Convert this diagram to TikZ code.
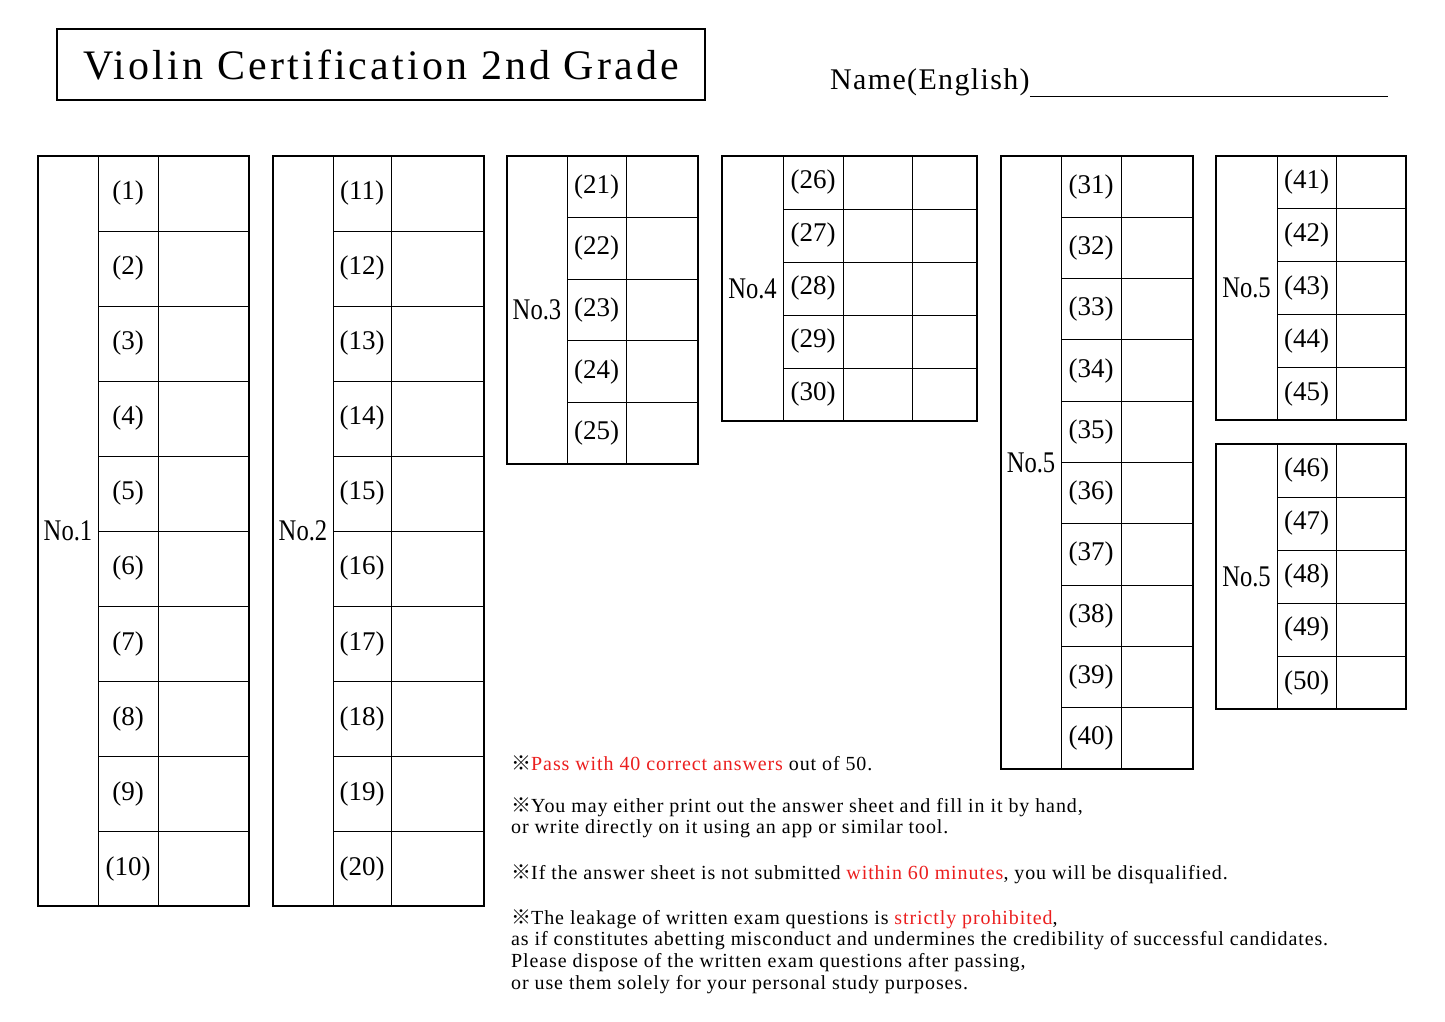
\documentclass[tikz,border=0pt]{standalone}
\usepackage{fontspec}
\setmainfont{Liberation Serif}
\newfontfamily\cond{Liberation Serif}
\newfontfamily\narrow{Liberation Serif}[FakeStretch=0.82]
\newfontfamily\spaced{Liberation Serif}[LetterSpace=4.5]
\newfontfamily\titlefont{Liberation Serif}[LetterSpace=7.5]
\newfontfamily\cjk{Noto Sans CJK JP}
\newcommand\kome{{\cjk ※}}
\usepackage{xcolor}
\definecolor{redtxt}{RGB}{235,30,30}
\tikzset{
 thinl/.style={line width=0.9pt},
 thickl/.style={line width=2.6pt},
 num/.style={font=\cond\fontsize{27}{27}\selectfont, inner sep=0pt},
 lab/.style={font=\narrow\fontsize{30}{30}\selectfont, inner sep=0pt},
 note/.style={font=\spaced\fontsize{20}{21}\selectfont, anchor=west, inner sep=0pt},
}
\newcommand\nrows{10}
\newcommand\anstab[9]{%
 \draw[thinl] (#2,#6) -- (#2,#7);
 \draw[thinl] (#3,#6) -- (#3,#7);
 \ifx\relax#4\relax\else\draw[thinl] (#4,#6) -- (#4,#7);\fi
 \pgfmathtruncatemacro\nm{\nrows-1}
 \foreach \i in {1,...,\nm} {\draw[thinl] (#2,{#6+\i*(#7-#6)/\nrows}) -- (#5,{#6+\i*(#7-#6)/\nrows});}
 \foreach \i in {1,...,\nrows} {\pgfmathtruncatemacro\k{#8+\i-1}
   \node[num] (q\k) at ({(#2+#3)/2},{#6+(\i-0.5)*(#7-#6)/\nrows}) {(\k)};}
 \node[lab] (L#8) at ({(#1+#2)/2},{(#6+#7)/2}) {#9};
 \draw[thickl] (#1,#6) rectangle (#5,#7);
}
\begin{document}
\begin{tikzpicture}[x=1pt,y=-1pt]
\useasboundingbox (0,0) rectangle (1445,1022);
\node[draw, line width=2.2pt, minimum width=648pt, minimum height=71pt, anchor=north west,
  font=\titlefont\fontsize{42}{42}\selectfont, inner sep=0pt] (title) at (56,28) {Violin Certification 2nd Grade};
\node[font=\spaced\fontsize{30}{30}\selectfont, anchor=south west, inner sep=0pt] (name) at (830,96) {Name(English)};
\coordinate (ul) at (1388,96);
\draw[thinl] (name.south east) -- (ul);
\renewcommand\nrows{10}
\anstab{38}{98}{158}{}{249}{156}{906}{1}{No.1}
\anstab{273}{333}{391}{}{484}{156}{906}{11}{No.2}
\anstab{1001}{1061}{1121}{}{1193}{156}{769}{31}{No.5}
\renewcommand\nrows{5}
\anstab{507}{567}{626}{}{698}{156}{464}{21}{No.3}
\anstab{722}{783}{843}{912}{977}{156}{421}{26}{No.4}
\anstab{1216}{1277}{1336}{}{1406}{156}{420}{41}{No.5}
\anstab{1216}{1277}{1336}{}{1406}{444}{709}{46}{No.5}
\node[note] (n1) at (511,763) {\kome\textcolor{redtxt}{Pass with 40 correct answers} out of 50.};
\node[note] (n2) at (511,807) {\kome You may either print out the answer sheet and fill in it by hand,};
\node[note] (n3) at (511,829) {or write directly on it using an app or similar tool.};
\node[note] (n4) at (511,874) {\kome If the answer sheet is not submitted \textcolor{redtxt}{within 60 minutes}, you will be disqualified.};
\node[note] (n5) at (511,919) {\kome The leakage of written exam questions is \textcolor{redtxt}{strictly prohibited},};
\node[note] (n6) at (511,941) {as if constitutes abetting misconduct and undermines the credibility of successful candidates.};
\node[note] (n7) at (511,963) {Please dispose of the written exam questions after passing,};
\node[note] (n8) at (511,985) {or use them solely for your personal study purposes.};
\end{tikzpicture}
\end{document}
